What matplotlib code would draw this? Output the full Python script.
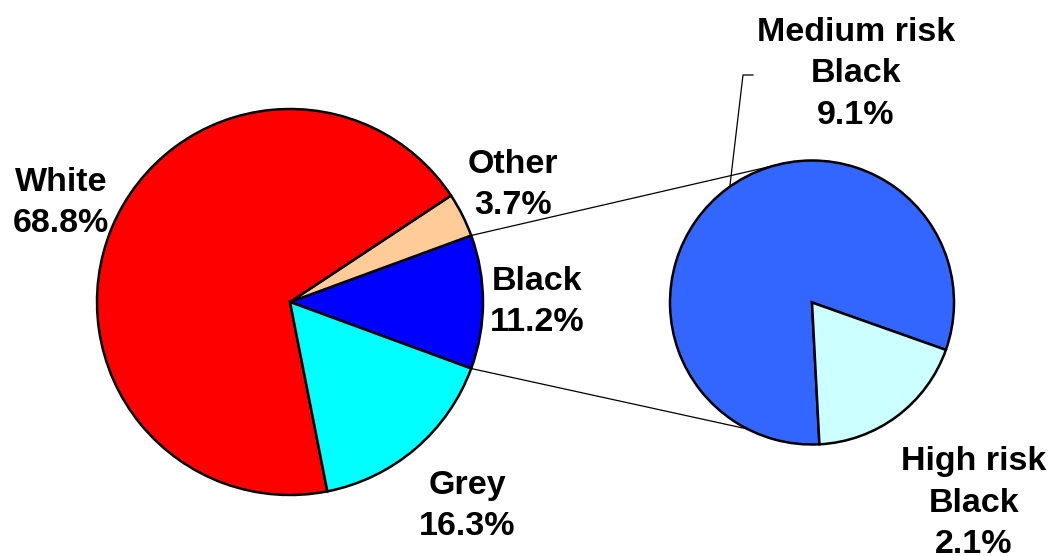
import numpy as np
import matplotlib.pyplot as plt

# main pie data (counter-clockwise from the split slice)
main_labels = ['Black', 'Other', 'White', 'Grey']
main_values = [11.2, 3.7, 68.8, 16.3]
main_colors = ['#0000FF', '#FFCC99', '#FF0000', '#00FFFF']

# breakdown of the "Black" slice
sub_labels = ['Medium risk\nBlack', 'High risk\nBlack']
sub_values = [9.1, 2.1]
sub_colors = ['#3366FF', '#CCFFFF']

plt.rcParams['font.family'] = ['Liberation Sans', 'DejaVu Sans']

W, H = 1050, 556
fig = plt.figure(figsize=(W / 100, H / 100), dpi=100)
ax = fig.add_axes([0, 0, 1, 1])

# left pie
c1, r1 = (290, 254), 193
split = main_values[0] / sum(main_values) * 360
start1 = -split / 2
ax.pie(main_values, colors=main_colors, startangle=start1, counterclock=True,
       center=c1, radius=r1, frame=True,
       wedgeprops=dict(edgecolor='black', linewidth=1.8))

# right pie
c2, r2 = (812, 253.5), 142
start2 = -19.5
ax.pie(sub_values, colors=sub_colors, startangle=start2, counterclock=True,
       center=c2, radius=r2, frame=True,
       wedgeprops=dict(edgecolor='black', linewidth=1.8))
ax.set_xlim(0, W)
ax.set_ylim(0, H)
ax.set_aspect('equal')
ax.axis('off')

# connector lines between the split slice and the second pie
def pt(c, r, ang):
    a = np.deg2rad(ang)
    return c[0] + r * np.cos(a), c[1] + r * np.sin(a)

p1 = pt(c1, r1, split / 2)
q1 = pt(c2, r2, 100.9)
p2 = pt(c1, r1, -split / 2)
q2 = pt(c2, r2, -117)
ax.plot([p1[0], q1[0]], [p1[1], q1[1]], color='black', lw=0.9)
ax.plot([p2[0], q2[0]], [p2[1], q2[1]], color='black', lw=0.9)

# leader line for the medium risk label
ax.plot([753, 743, 730], [H - 75, H - 75, H - 185], color='black', lw=0.9)

fs = 24.5
tkw = dict(fontsize=fs, fontweight='bold', ha='center', va='center', linespacing=1.45)
ax.text(61, H - 203, f"White\n{main_values[2]}%", **tkw)
ax.text(513, H - 185, f"Other\n{main_values[1]}%", **tkw)
ax.text(537, H - 302, f"Black\n{main_values[0]}%", **tkw)
ax.text(467, H - 506, f"Grey\n{main_values[3]}%", **tkw)
ax.text(856, H - 74, f"{sub_labels[0]}\n{sub_values[0]}%", **tkw)
ax.text(974, H - 503, f"{sub_labels[1]}\n{sub_values[1]}%", **tkw)

fig.savefig('out.png', dpi=100)
